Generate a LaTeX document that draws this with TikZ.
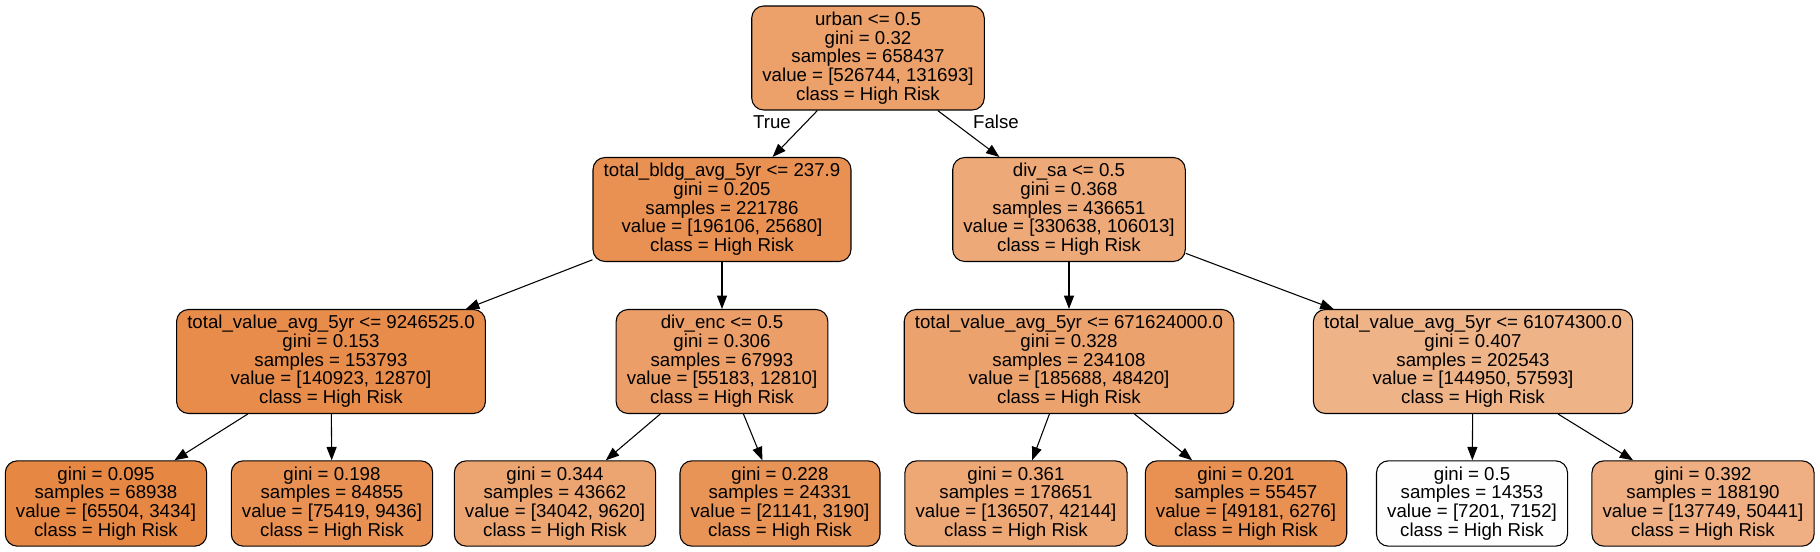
\documentclass[tikz,border=0pt]{standalone}
\usepackage{fontspec}
\setmainfont{Liberation Sans}
\usetikzlibrary{arrows.meta}
\definecolor{c0}{RGB}{236,160,106}
\definecolor{c1}{RGB}{232,145,83}
\definecolor{c2}{RGB}{237,169,120}
\definecolor{c3}{RGB}{231,140,75}
\definecolor{c6}{RGB}{235,158,103}
\definecolor{c9}{RGB}{236,162,109}
\definecolor{c12}{RGB}{239,179,136}
\definecolor{c4}{RGB}{230,136,67}
\definecolor{c5}{RGB}{232,145,82}
\definecolor{c7}{RGB}{236,165,113}
\definecolor{c8}{RGB}{233,148,87}
\definecolor{c10}{RGB}{237,168,118}
\definecolor{c11}{RGB}{232,145,82}
\definecolor{c13}{RGB}{255,254,254}
\definecolor{c14}{RGB}{239,175,130}
\begin{document}
\begin{tikzpicture}[x=0.75pt,y=-0.75pt]\tikzset{split/.style = {shape=rectangle, draw, line width=0.8pt, rounded corners=9pt, align=center, inner xsep=8pt, inner ysep=0pt, minimum height=78pt, font=\fontsize{14}{14}\selectfont, execute at begin node=\rule{0pt}{12pt}, execute at end node=\rule[-2.5pt]{0pt}{2.5pt}}, leaf/.style = {split, minimum height=64pt}, branch/.style = {line width=0.8pt, -{Triangle[length=10pt,width=7.5pt]}}, lbl/.style = {font=\fontsize{14}{14}\selectfont}}
		\useasboundingbox (0,0) rectangle (1820,552);

		\node[split, fill=c0] (N_0) at (868,58) {urban <= 0.5\\gini = 0.32\\samples = 658437\\value = [526744, 131693]\\class = High Risk};
		\node[split, fill=c1] (N_1) at (722,209.5) {total\_bldg\_avg\_5yr <= 237.9\\gini = 0.205\\samples = 221786\\value = [196106, 25680]\\class = High Risk};
		\node[split, fill=c2] (N_2) at (1069,209.5) {div\_sa <= 0.5\\gini = 0.368\\samples = 436651\\value = [330638, 106013]\\class = High Risk};
		\node[split, fill=c3] (N_3) at (331,361.5) {total\_value\_avg\_5yr <= 9246525.0\\gini = 0.153\\samples = 153793\\value = [140923, 12870]\\class = High Risk};
		\node[split, fill=c6] (N_6) at (722,361.5) {div\_enc <= 0.5\\gini = 0.306\\samples = 67993\\value = [55183, 12810]\\class = High Risk};
		\node[split, fill=c9] (N_9) at (1069,361.5) {total\_value\_avg\_5yr <= 671624000.0\\gini = 0.328\\samples = 234108\\value = [185688, 48420]\\class = High Risk};
		\node[split, fill=c12] (N_12) at (1473,361.5) {total\_value\_avg\_5yr <= 61074300.0\\gini = 0.407\\samples = 202543\\value = [144950, 57593]\\class = High Risk};
		\node[leaf, fill=c4] (N_4) at (106,503.5) {gini = 0.095\\samples = 68938\\value = [65504, 3434]\\class = High Risk};
		\node[leaf, fill=c5] (N_5) at (332,503.5) {gini = 0.198\\samples = 84855\\value = [75419, 9436]\\class = High Risk};
		\node[leaf, fill=c7] (N_7) at (555,503.5) {gini = 0.344\\samples = 43662\\value = [34042, 9620]\\class = High Risk};
		\node[leaf, fill=c8] (N_8) at (780,503.5) {gini = 0.228\\samples = 24331\\value = [21141, 3190]\\class = High Risk};
		\node[leaf, fill=c10] (N_10) at (1016,503.5) {gini = 0.361\\samples = 178651\\value = [136507, 42144]\\class = High Risk};
		\node[leaf, fill=c11] (N_11) at (1246,503.5) {gini = 0.201\\samples = 55457\\value = [49181, 6276]\\class = High Risk};
		\node[leaf, fill=c13] (N_13) at (1472,503.5) {gini = 0.5\\samples = 14353\\value = [7201, 7152]\\class = High Risk};
		\node[leaf, fill=c14] (N_14) at (1703,503.5) {gini = 0.392\\samples = 188190\\value = [137749, 50441]\\class = High Risk};
		\node[lbl] (T) at (772,122) {True};
		\node[lbl] (F) at (996,122) {False};

		\draw[branch] (N_0) -- (N_1);
		\draw[branch] (N_0) -- (N_2);
		\draw[branch] (N_1) -- (N_3);
		\draw[branch] (N_1) -- (N_6);
		\draw[branch] (N_2) -- (N_9);
		\draw[branch] (N_2) -- (N_12);
		\draw[branch] (N_3) -- (N_4);
		\draw[branch] (N_3) -- (N_5);
		\draw[branch] (N_6) -- (N_7);
		\draw[branch] (N_6) -- (N_8);
		\draw[branch] (N_9) -- (N_10);
		\draw[branch] (N_9) -- (N_11);
		\draw[branch] (N_12) -- (N_13);
		\draw[branch] (N_12) -- (N_14);
	\end{tikzpicture}
\end{document}
